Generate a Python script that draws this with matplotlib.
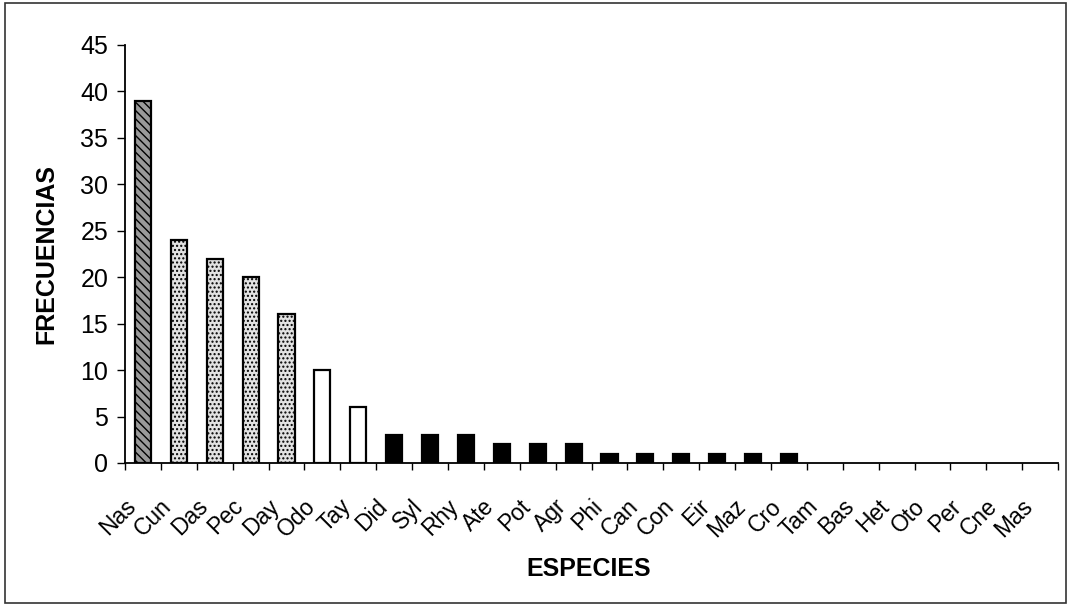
import matplotlib.pyplot as plt
import matplotlib.patches as mpatches
import numpy as np

plt.rcParams['font.family'] = ['Liberation Sans', 'DejaVu Sans']
plt.rcParams['hatch.linewidth'] = 1.0

especies = ["Nas", "Cun", "Das", "Pec", "Day", "Odo", "Tay", "Did", "Syl", "Rhy",
            "Ate", "Pot", "Agr", "Phi", "Can", "Con", "Eir", "Maz", "Cro", "Tam",
            "Bas", "Het", "Oto", "Per", "Cne", "Mas"]
frecuencias = [39, 24, 22, 20, 16, 10, 6, 3, 3, 3,
               2, 2, 2, 1, 1, 1, 1, 1, 1, 0,
               0, 0, 0, 0, 0, 0]
# grupo de cada especie (define el relleno)
grupos = ["a", "b", "b", "b", "b", "c", "c", "d", "d", "d",
          "d", "d", "d", "d", "d", "d", "d", "d", "d", "d",
          "d", "d", "d", "d", "d", "d"]

estilos = {
    "a": dict(color="#9a9a9a", hatch="\\\\\\\\"),
    "b": dict(color="#e2e2e2", hatch="...."),
    "c": dict(color="white", hatch=None),
    "d": dict(color="black", hatch=None),
}

fig = plt.figure(figsize=(10.71, 6.12), dpi=100)
ax = fig.add_axes([0.1167, 0.2435, 0.8713, 0.683])

x = np.arange(len(especies))
for xi, v, g in zip(x, frecuencias, grupos):
    if v == 0:
        continue
    st = estilos[g]
    ax.bar(xi, v, width=0.45, facecolor=st["color"], edgecolor="black",
           linewidth=1.6, hatch=st["hatch"])

ax.set_xlim(-0.5, len(especies) - 0.5)
ax.set_ylim(0, 45)
ax.set_yticks(range(0, 46, 5))
ax.set_xticks(x - 0.5, minor=False)
ax.set_xticks([len(especies) - 0.5], minor=True)
ax.set_xticklabels([])
ax.tick_params(axis="x", which="both", direction="out", length=5, width=1)
ax.tick_params(axis="y", direction="out", length=6, width=1, labelsize=18, pad=6)

for xi, name in zip(x, especies):
    ax.text(xi - 0.3, -4.3, name, rotation=45, ha="right", va="center",
            rotation_mode="anchor", fontsize=16.5, transform=ax.transData)

ax.spines["top"].set_visible(False)
ax.spines["right"].set_visible(False)
ax.spines["left"].set_linewidth(1.3)
ax.spines["bottom"].set_linewidth(1.3)

ax.set_ylabel("FRECUENCIAS", fontsize=18, fontweight="bold")
ax.yaxis.set_label_coords(-0.071, 0.5)
fig.text(0.550, 0.070, "ESPECIES", fontsize=18, fontweight="bold",
         ha="center", va="center")

# marco exterior
fig.patches.append(mpatches.Rectangle((0.005, 0.015), 0.99, 0.98,
                                      transform=fig.transFigure, fill=False,
                                      edgecolor="#333333", linewidth=1.2))

fig.savefig("out.png", dpi=100)
